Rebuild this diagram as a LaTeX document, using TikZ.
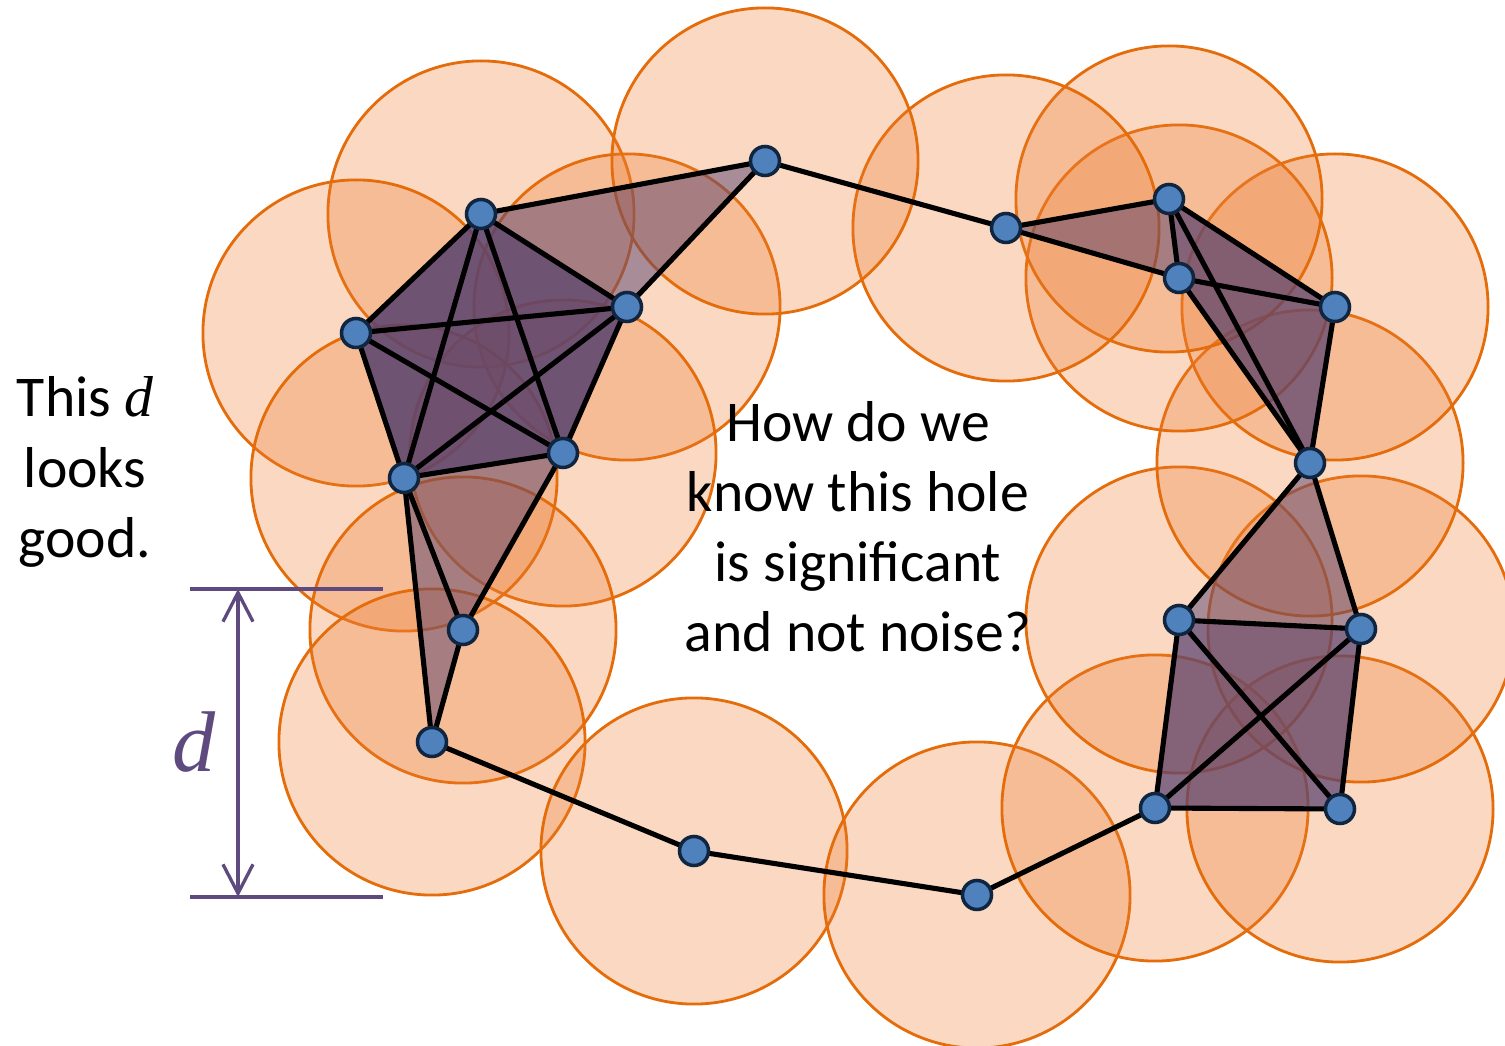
\documentclass[tikz,border=0pt]{standalone}
\usepackage{fontspec}
\setmainfont{Carlito}
\newfontfamily\dfont{Liberation Serif}
\usetikzlibrary{arrows.meta,calc}
\definecolor{circfill}{HTML}{ED7D31}
\definecolor{circline}{HTML}{E46C0A}
\definecolor{simp}{HTML}{58416E}
\definecolor{dotfill}{HTML}{4F81BD}
\definecolor{dotline}{HTML}{10253F}
\definecolor{dmark}{HTML}{5E4A7E}
\pgfdeclarelayer{bg}
\pgfdeclarelayer{edges}
\pgfsetlayers{bg,edges,main}
\begin{document}
\begin{tikzpicture}[x=0.01cm,y=-0.01cm,
  ball/.style={fill=circfill,fill opacity=0.3,draw=circline,line width=0.8pt},
  simpA/.style={fill=simp,fill opacity=0.5},
  simpB/.style={fill=simp,fill opacity=0.72},
  simpC/.style={fill=simp,fill opacity=0.85},
  vtx/.style={circle,fill=dotfill,draw=dotline,line width=1pt,minimum size=0.29cm,inner sep=0pt},
  edge/.style={draw=black,line width=1.45pt},
  txt/.style={inner sep=0pt,anchor=base,font=\fontsize{16.4}{19.9}\selectfont},
  dline/.style={draw=dmark,line width=0.95pt}
]
\useasboundingbox (0,0) rectangle (1505,1046);

% vertices
\node[vtx] (A) at (481,214) {};
\node[vtx] (B) at (356,333) {};
\node[vtx] (C) at (627,307) {};
\node[vtx] (D) at (563,453) {};
\node[vtx] (E) at (404,478) {};
\node[vtx] (F) at (463,630) {};
\node[vtx] (G) at (432,742) {};
\node[vtx] (H) at (694,851) {};
\node[vtx] (I) at (977,895) {};
\node[vtx] (J) at (1155,808) {};
\node[vtx] (K) at (1340,809) {};
\node[vtx] (L) at (1361,629) {};
\node[vtx] (M) at (1179,620) {};
\node[vtx] (N) at (1310,463) {};
\node[vtx] (O) at (1335,307) {};
\node[vtx] (P) at (1179,278) {};
\node[vtx] (Q) at (1169,199) {};
\node[vtx] (R) at (1006,228) {};
\node[vtx] (S) at (765,161) {};

\begin{pgfonlayer}{bg}
  \foreach \v in {A,B,C,D,E,F,G,H,I,J,K,L,M,N,O,P,Q,R,S}
    \path[ball] (\v.center) circle [radius=1.53cm];
  \fill[simpA] (A.center)--(S.center)--(C.center)--cycle;
  \fill[simpC] (A.center)--(C.center)--(D.center)--(E.center)--(B.center)--cycle;
  \fill[simpA] (E.center)--(D.center)--(F.center)--cycle;
  \fill[simpA] (E.center)--(F.center)--(G.center)--cycle;
  \fill[simpA] (R.center)--(Q.center)--(P.center)--cycle;
  \fill[simpB] (Q.center)--(O.center)--(N.center)--(P.center)--cycle;
  \fill[simpA] (N.center)--(M.center)--(L.center)--cycle;
  \fill[simpB] (M.center)--(L.center)--(K.center)--(J.center)--cycle;
\end{pgfonlayer}

\begin{pgfonlayer}{edges}
  \foreach \a/\b in {A/S,S/C,A/B,A/C,A/D,A/E,B/C,B/D,B/E,C/D,C/E,D/E,
                     E/F,E/G,F/G,D/F,G/H,H/I,I/J,J/K,J/M,J/L,M/K,M/L,L/K,
                     M/N,N/L,N/O,N/Q,N/P,Q/O,P/O,Q/P,R/Q,R/P,S/R}
    \draw[edge] (\a.center) -- (\b.center);
\end{pgfonlayer}

% centre question
\node[txt] (q1) at (858,442) {How do we};
\node[txt] (q2) at (858,512) {know this hole};
\node[txt] (q3) at (858,582) {is significant};
\node[txt] (q4) at (858,652) {and not noise?};

% left remark
\node[txt] (l1) at (85,417) {This {\dfont\itshape d}};
\node[txt] (l2) at (85,488) {looks};
\node[txt] (l3) at (85,558) {good.};

% d marker
\coordinate (dtl) at (190,589);
\coordinate (dtr) at (383,589);
\coordinate (dbl) at (190,897);
\coordinate (dbr) at (383,897);
\coordinate (dtop) at (238,589);
\coordinate (dbot) at (238,897);
\draw[dline] (dtl) -- (dtr);
\draw[dline] (dbl) -- (dbr);
\draw[dline,{Straight Barb[length=0.29cm,width=0.3cm]}-{Straight Barb[length=0.29cm,width=0.3cm]}] (dtop) -- (dbot);
\node[inner sep=0pt,anchor=base,text=dmark,font=\fontsize{24.5}{25}\selectfont\dfont\itshape] (dlab) at (194,772) {d};
\end{tikzpicture}
\end{document}
